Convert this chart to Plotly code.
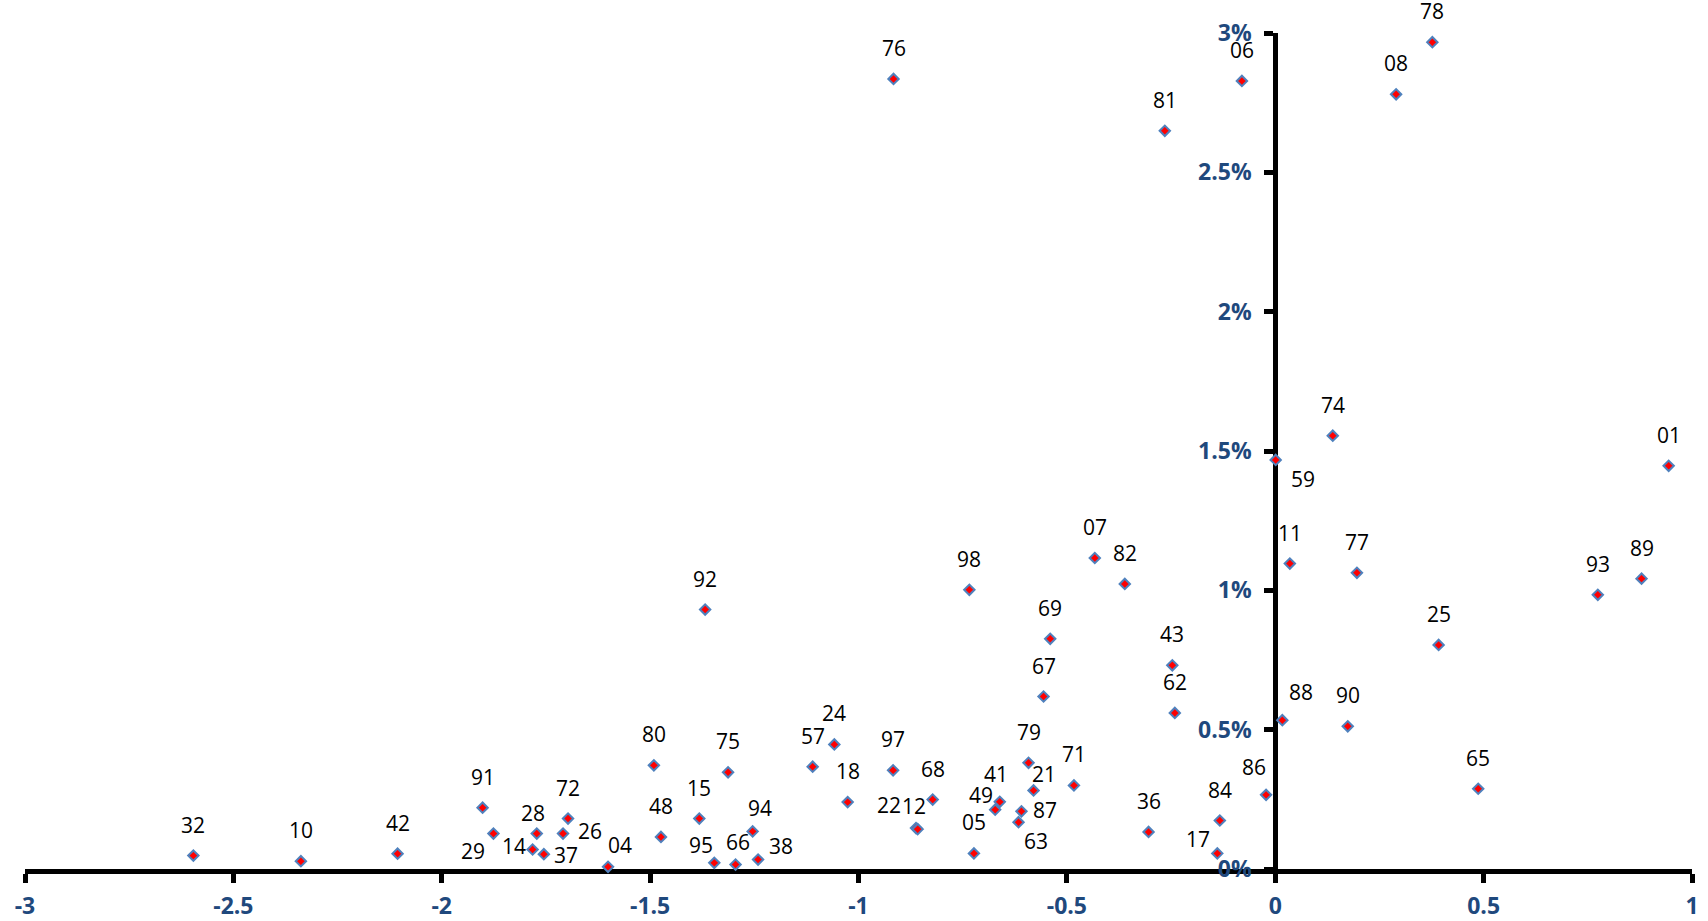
import plotly.graph_objects as go

# ---- data ----
labels = ["32", "10", "42", "91", "29", "28", "14", "37", "72", "26", "04", "80", "48", "15", "92",
          "95", "75", "66", "94", "38", "57", "24", "18", "76", "97", "22", "12", "68", "05", "49",
          "41", "63", "87", "79", "21", "71", "36", "81", "07", "82", "98", "69", "67", "43", "62",
          "84", "17", "06", "86", "59", "88", "11", "74", "90", "77", "08", "78", "25", "65", "93",
          "89", "01"]
x_vals = [-2.596, -2.338, -2.106, -1.902, -1.876, -1.772, -1.782, -1.755, -1.697, -1.709, -1.601,
          -1.491, -1.474, -1.382, -1.368, -1.346, -1.313, -1.295, -1.254, -1.241, -1.110, -1.058,
          -1.026, -0.916, -0.917, -0.862, -0.858, -0.822, -0.723, -0.672, -0.661, -0.616, -0.609,
          -0.592, -0.580, -0.483, -0.304, -0.265, -0.433, -0.361, -0.734, -0.540, -0.556, -0.247,
          -0.241, -0.133, -0.139, -0.080, -0.022, 0.001, 0.017, 0.035, 0.138, 0.174, 0.196, 0.290,
          0.377, 0.392, 0.487, 0.774, 0.879, 0.944]
y_pct = [0.048, 0.028, 0.055, 0.220, 0.127, 0.127, 0.070, 0.053, 0.181, 0.127, 0.008, 0.372, 0.115,
         0.181, 0.931, 0.022, 0.347, 0.016, 0.135, 0.034, 0.367, 0.447, 0.240, 2.835, 0.354, 0.147,
         0.143, 0.249, 0.056, 0.213, 0.241, 0.168, 0.207, 0.381, 0.282, 0.300, 0.133, 2.649, 1.116,
         1.023, 1.002, 0.826, 0.619, 0.731, 0.560, 0.174, 0.056, 2.828, 0.266, 1.468, 0.534, 1.096,
         1.555, 0.512, 1.063, 2.780, 2.967, 0.804, 0.288, 0.984, 1.042, 1.447]

x_tickvals = [-3, -2.5, -2, -1.5, -1, -0.5, 0, 0.5, 1]
x_ticktext = ["-3", "-2.5", "-2", "-1.5", "-1", "-0.5", "0", "0.5", "1"]
y_tickvals = [0, 0.5, 1, 1.5, 2, 2.5, 3]
y_ticktext = ["0%", "0.5%", "1%", "1.5%", "2%", "2.5%", "3%"]

# ---- label placement style (pixel offsets from the marker, dy positive = down) ----
DEFAULT_OFFSET = (0, -30)
LABEL_OFFSETS = {
    "29": (-20, 18), "14": (-19, -2), "37": (22, 2), "26": (27, -2), "04": (12, -21),
    "95": (-13, -17), "66": (2, -22), "94": (7, -22), "38": (23, -13), "12": (-4, -22),
    "22": (-27, -22), "49": (-14, -14), "41": (-4, -27), "21": (10, -15), "87": (24, 0),
    "63": (17, 20), "28": (-4, -20), "17": (-19, -13), "86": (-12, -27), "88": (19, -27),
    "59": (27, 20),
}
GLYPH_CORRECTION = 1  # text box centre vs digit centre

TICK_COLOR = "#1F497D"
FONT = "Open Sans"

fig = go.Figure()
fig.add_trace(go.Scatter(
    x=x_vals, y=y_pct, mode="markers",
    marker=dict(symbol="diamond", size=8, color="#FF0000",
                line=dict(color="#4F81BD", width=2)),
    cliponaxis=False, hoverinfo="skip", showlegend=False,
))

annotations = []
for lab, xv, yv in zip(labels, x_vals, y_pct):
    dx, dy = LABEL_OFFSETS.get(lab, DEFAULT_OFFSET)
    annotations.append(dict(
        x=xv, y=yv, xref="x", yref="y", text=lab, showarrow=False,
        xshift=dx, yshift=-dy + GLYPH_CORRECTION, xanchor="center", yanchor="middle",
        font=dict(family=FONT, size=21, color="#000000"),
    ))

fig.update_layout(
    width=1708, height=921,
    margin=dict(l=25, r=16, t=33, b=52, autoexpand=False),
    paper_bgcolor="white", plot_bgcolor="white",
    annotations=annotations,
    xaxis=dict(
        range=[-3, 1], tickvals=x_tickvals, ticktext=x_ticktext,
        showgrid=False, zeroline=False, showline=True, linecolor="black", linewidth=5,
        ticks="outside", ticklen=9, tickwidth=5, tickcolor="black",
        tickfont=dict(family=FONT, size=23, color=TICK_COLOR, weight="bold"),
        ticklabelstandoff=3, layer="below traces", automargin=False,
    ),
    yaxis=dict(
        range=[0, 3], tickvals=y_tickvals, ticktext=y_ticktext,
        anchor="free", position=0.75, side="left",
        showgrid=False, zeroline=False, showline=True, linecolor="black", linewidth=5,
        ticks="outside", ticklen=9, tickwidth=5, tickcolor="black",
        tickfont=dict(family=FONT, size=23, color=TICK_COLOR, weight="bold"),
        ticklabelstandoff=8, layer="below traces", automargin=False,
    ),
)

fig.write_html(
    "out.html",
    config={"displayModeBar": False},
    post_script="document.body.style.margin='0';document.body.style.overflow='hidden';",
)
